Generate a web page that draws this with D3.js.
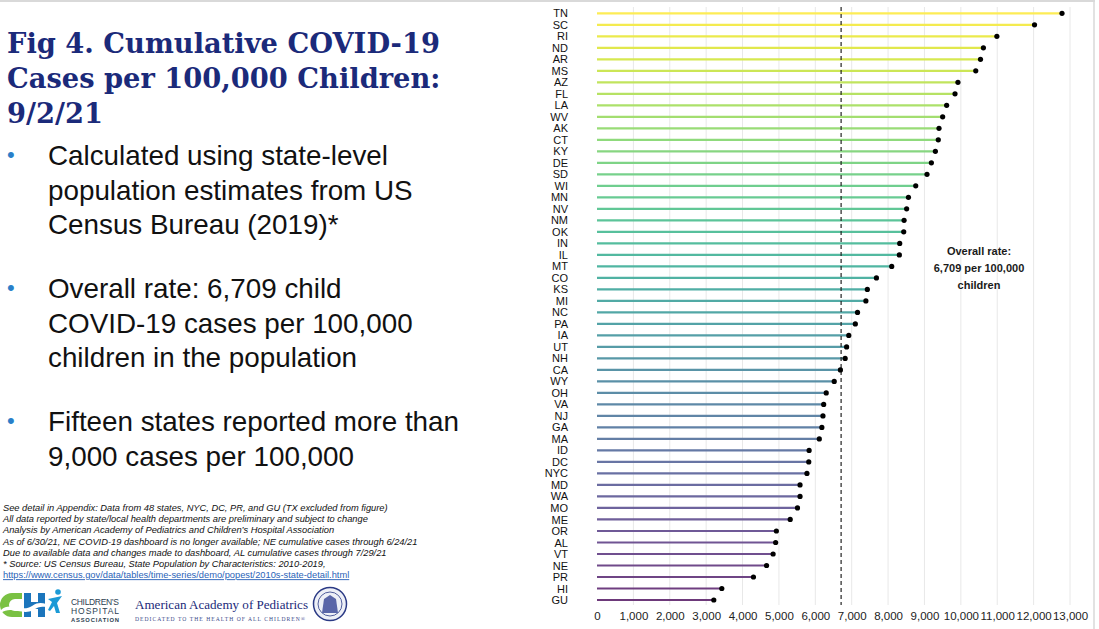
<!DOCTYPE html>
<html>
<head>
<meta charset="utf-8">
<script src="https://cdn.jsdelivr.net/npm/d3@7"></script>
<style>
  html, body { margin: 0; padding: 0; background: #fff; }
  svg { display: block; }
</style>
</head>
<body>
<svg id="chart" width="1099" height="629"></svg>
<script>
// ---------------- DATA ----------------
const states = ["TN","SC","RI","ND","AR","MS","AZ","FL","LA","WV","AK","CT","KY","DE","SD","WI","MN","NV","NM","OK","IN","IL","MT","CO","KS","MI","NC","PA","IA","UT","NH","CA","WY","OH","VA","NJ","GA","MA","ID","DC","NYC","MD","WA","MO","ME","OR","AL","VT","NE","PR","HI","GU"];
const rates = [12780,12025,10990,10620,10540,10410,9920,9840,9610,9500,9400,9380,9300,9190,9070,8760,8560,8510,8440,8430,8320,8310,8100,7680,7430,7390,7160,7100,6920,6860,6820,6690,6520,6300,6230,6210,6180,6110,5830,5820,5770,5580,5580,5510,5310,4930,4910,4840,4660,4300,3430,3210];
const overallRate = 6709;
const xTicks = [0,1000,2000,3000,4000,5000,6000,7000,8000,9000,10000,11000,12000,13000];
const annotationLines = ["Overall rate:", "6,709 per 100,000", "children"];
const titleLines = ["Fig 4. Cumulative COVID-19", "Cases per 100,000 Children:", "9/2/21"];
const bullets = [
  ["Calculated using state-level", "population estimates from US", "Census Bureau (2019)*"],
  ["Overall rate: 6,709 child", "COVID-19 cases per 100,000", "children in the population"],
  ["Fifteen states reported more than", "9,000 cases per 100,000"]
];
const footnotes = [
  "See detail in Appendix: Data from 48 states, NYC, DC, PR, and GU (TX excluded from figure)",
  "All data reported by state/local health departments are preliminary and subject to change",
  "Analysis by American Academy of Pediatrics and Children\u2019s Hospital Association",
  "As of 6/30/21, NE COVID-19 dashboard is no longer available; NE cumulative cases through 6/24/21",
  "Due to available data and changes made to dashboard, AL cumulative cases through 7/29/21",
  "* Source: US Census Bureau, State Population by Characteristics: 2010-2019,"
];
const sourceLink = "https://www.census.gov/data/tables/time-series/demo/popest/2010s-state-detail.html";

// ---------------- DRAW ----------------
const svg = d3.select("#chart");
const W = 1099, H = 629;

// frame
svg.append("line").attr("x1", 0).attr("x2", 1095).attr("y1", 1).attr("y2", 1)
  .attr("stroke", "#d9d9d9").attr("stroke-width", 2);
svg.append("line").attr("x1", 1094).attr("x2", 1094).attr("y1", 0).attr("y2", H)
  .attr("stroke", "#d9d9d9").attr("stroke-width", 1.5);

const x = d3.scaleLinear().domain([0, 13000]).range([597, 1070]);
const y = d3.scalePoint().domain(states).range([13.3, 600]);

const color = i => {
  const t = 1 - i / (states.length - 1);
  return d3.interpolateRgb(d3.interpolateViridis(t), "#ffffff")(0.22);
};

const g = svg.append("g");

// gridlines
g.append("g").selectAll("line").data(xTicks.filter(d => d > 0)).join("line")
  .attr("x1", d => x(d)).attr("x2", d => x(d))
  .attr("y1", 7).attr("y2", 605)
  .attr("stroke", "#e8e8e8").attr("stroke-width", 1);

// x axis (tick labels only)
const xAxis = d3.axisBottom(x).tickValues(xTicks).tickFormat(d3.format(",")).tickSize(0).tickPadding(0);
const ax = g.append("g").attr("transform", "translate(0,612)").call(xAxis);
ax.select(".domain").remove();
ax.selectAll("text").attr("font-family", "Liberation Sans, Arial, sans-serif")
  .attr("font-size", 11.5).attr("fill", "#222");

// y axis (labels only)
const yAxis = d3.axisLeft(y).tickSize(0).tickPadding(0);
const ay = g.append("g").attr("transform", "translate(568,0)").call(yAxis);
ay.select(".domain").remove();
ay.selectAll("text").attr("font-family", "Liberation Sans, Arial, sans-serif")
  .attr("font-size", 11).attr("fill", "#111");

// lollipop lines
g.append("g").selectAll("line").data(states).join("line")
  .attr("x1", x(0)).attr("x2", (d, i) => x(rates[i]))
  .attr("y1", d => y(d)).attr("y2", d => y(d))
  .attr("stroke", (d, i) => color(i)).attr("stroke-width", 2.2);

// overall dashed line
g.append("line").attr("x1", x(overallRate)).attr("x2", x(overallRate))
  .attr("y1", 7).attr("y2", 605)
  .attr("stroke", "#222").attr("stroke-width", 1.2).attr("stroke-dasharray", "4,3");

// dots
g.append("g").selectAll("circle").data(states).join("circle")
  .attr("cx", (d, i) => x(rates[i])).attr("cy", d => y(d)).attr("r", 2.6)
  .attr("fill", "#000");

// annotation
g.append("g").selectAll("text").data(annotationLines).join("text")
  .attr("x", 979).attr("y", (d, i) => 255 + i * 17)
  .attr("text-anchor", "middle")
  .attr("font-family", "Liberation Sans, Arial, sans-serif")
  .attr("font-size", 11).attr("font-weight", "bold").attr("fill", "#1a1a1a")
  .text(d => d);

// ---------------- LEFT TEXT ----------------
const left = svg.append("g");
left.selectAll("text.title").data(titleLines).join("text").attr("class", "title")
  .attr("x", 7).attr("y", (d, i) => 53 + i * 35)
  .attr("font-family", "DejaVu Serif, serif").attr("font-weight", "bold")
  .attr("font-size", 27.3).attr("fill", "#1b2a7a")
  .text(d => d);

const bulletStarts = [165, 298, 431];
bullets.forEach((lines, b) => {
  left.append("text").attr("x", 7).attr("y", bulletStarts[b] - 3)
    .attr("font-family", "Liberation Sans, Arial, sans-serif").attr("font-size", 22)
    .attr("fill", "#2a7fc9").text("\u2022");
  left.append("g").selectAll("text").data(lines).join("text")
    .attr("x", 48).attr("y", (d, i) => bulletStarts[b] + i * 34.5)
    .attr("font-family", "Liberation Sans, Arial, sans-serif").attr("font-size", 27.8)
    .attr("fill", "#111").text(d => d);
});

left.append("g").selectAll("text").data(footnotes).join("text")
  .attr("x", 3).attr("y", (d, i) => 511 + i * 11.2)
  .attr("font-family", "Liberation Sans, Arial, sans-serif").attr("font-size", 9.3)
  .attr("font-style", "italic").attr("fill", "#111").text(d => d);
left.append("text").attr("x", 3).attr("y", 511 + 6 * 11.2)
  .attr("font-family", "Liberation Sans, Arial, sans-serif").attr("font-size", 9.3)
  .attr("text-decoration", "underline").attr("fill", "#2a63b8").text(sourceLink);

// ---------------- LOGOS ----------------
const logo = svg.append("g");
// CHA mark: green C, blue H, wave, figure
logo.append("path").attr("d", "M22,593 L12,593 A12,12 0 0 0 12,617 L22,617 L22,611 L15,611 A6,6 0 0 1 15,599 L22,599 Z").attr("fill", "#7ac143");
logo.append("rect").attr("x", 24).attr("y", 593).attr("width", 7).attr("height", 24).attr("fill", "#1b75bc");
logo.append("rect").attr("x", 38).attr("y", 593).attr("width", 7).attr("height", 24).attr("fill", "#1b75bc");
logo.append("rect").attr("x", 31).attr("y", 602).attr("width", 7).attr("height", 7).attr("fill", "#1b75bc");
logo.append("path").attr("d", "M1,610 C10,601 22,613 32,606 C38,602 42,603 46,604 L46,607 C41,606 38,607 33,610 C23,616 11,605 1,613 Z").attr("fill", "#fff");
logo.append("circle").attr("cx", 58).attr("cy", 592).attr("r", 2.8).attr("fill", "#1b9ad6");
logo.append("path").attr("d", "M48,599 L62,596 L57,603 L60,613 L56,613 L54,606 L50,611 L48,610 L52,602 Z").attr("fill", "#1b9ad6");
const chaText = [["CHILDREN\u2019S", 605, 8.5, "normal"], ["HOSPITAL", 614, 8.5, "normal"], ["ASSOCIATION", 621.5, 5.8, "bold"]];
logo.selectAll("text.cha").data(chaText).join("text").attr("class", "cha")
  .attr("x", 71).attr("y", d => d[1]).attr("font-size", d => d[2]).attr("font-weight", d => d[3])
  .attr("textLength", 48).attr("lengthAdjust", "spacing")
  .attr("font-family", "Liberation Sans, Arial, sans-serif").attr("fill", "#2b3e50")
  .text(d => d[0]);
logo.append("text").attr("x", 135).attr("y", 609).attr("font-family", "Liberation Serif, serif")
  .attr("font-size", 13.5).attr("textLength", 173).attr("lengthAdjust", "spacingAndGlyphs")
  .attr("fill", "#1b2a7a").text("American Academy of Pediatrics");
logo.append("text").attr("x", 135).attr("y", 621).attr("font-family", "Liberation Serif, serif")
  .attr("font-size", 5.6).attr("textLength", 170).attr("lengthAdjust", "spacing")
  .attr("fill", "#3b4a8a").text("DEDICATED TO THE HEALTH OF ALL CHILDREN\u00AE");
logo.append("circle").attr("cx", 330).attr("cy", 604).attr("r", 16.5).attr("fill", "#eef0f7")
  .attr("stroke", "#2b3a85").attr("stroke-width", 1.5);
logo.append("circle").attr("cx", 330).attr("cy", 604).attr("r", 12).attr("fill", "none")
  .attr("stroke", "#2b3a85").attr("stroke-width", 0.8);
logo.append("path").attr("d", "M322,613 L324,599 L330,595 L336,599 L338,613 Z").attr("fill", "#5a66a8");
</script>
</body>
</html>
